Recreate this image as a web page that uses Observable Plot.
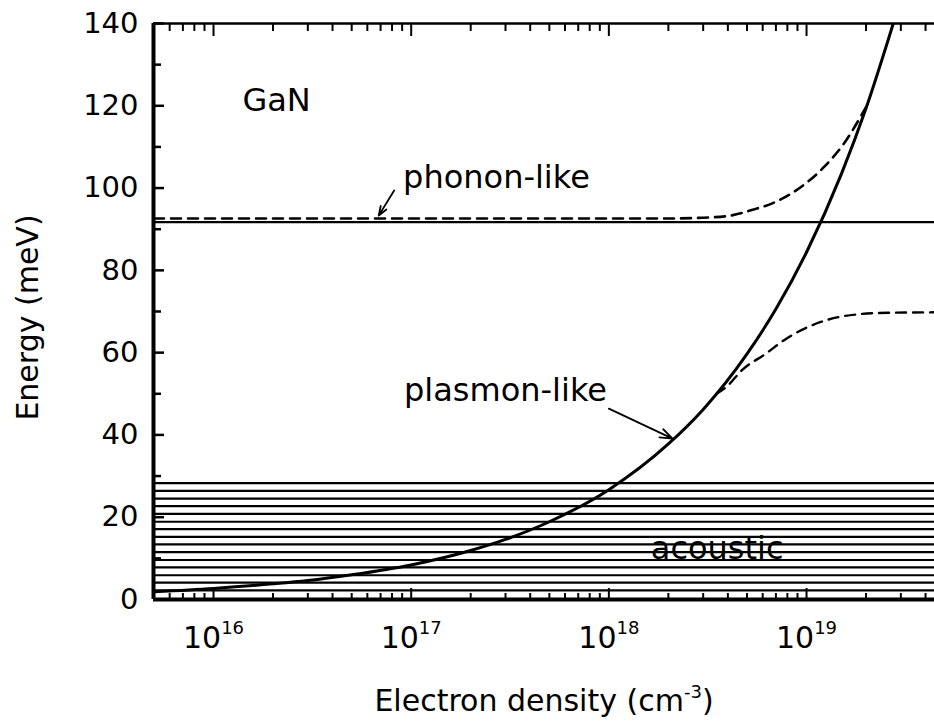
<!DOCTYPE html>
<html><head><meta charset="utf-8">
<script src="https://cdn.jsdelivr.net/npm/d3@7"></script>
<script src="https://cdn.jsdelivr.net/npm/@observablehq/plot@0.6"></script>
<style>body{margin:0;background:#fff} svg{display:block}</style>
</head><body><div id="chart"></div>
<script>
// ---- data ----
const plasmonDensity = [5e15, 1e16, 2e16, 3e16, 5e16, 1e17, 2e17, 3e17, 5e17, 1e18, 2e18, 3e18, 5e18, 7e18, 1e19, 1.5e19, 2e19, 2.8e19];
const plasmonEnergy  = [1.9, 2.7, 3.8, 4.6, 6.0, 8.4, 11.9, 14.6, 18.9, 26.7, 37.8, 46.2, 59.7, 70.6, 84.4, 103.4, 119.4, 141.3];

const upperDensity = [5e15, 1e17, 1e18, 2e18, 3e18, 4e18, 5.4e18, 6.8e18, 8.9e18, 1.23e19, 1.55e19, 2.0e19];
const upperEnergy  = [92.6, 92.6, 92.6, 92.6, 92.8, 93.2, 94.8, 96.4, 99.5, 105.2, 110.9, 119.7];

const lowerDensity = [3.5e18, 4.0e18, 4.7e18, 6.2e18, 7.9e18, 1.17e19, 1.8e19, 2.6e19, 4.4e19];
const lowerEnergy  = [50.0, 52.0, 55.7, 59.7, 63.4, 67.4, 69.3, 69.7, 69.8];

const phononEnergy = [91.7];
const acousticEnergies = [2.2, 4.1, 5.9, 7.8, 9.6, 11.5, 13.4, 15.2, 17.1, 18.9, 20.8, 22.7, 24.5, 26.4, 28.3];

const xTicks = [1e16, 1e17, 1e18, 1e19];
const xTickLabels = ["10^{16}", "10^{17}", "10^{18}", "10^{19}"];
const xMinorTicks = [6e15, 7e15, 8e15, 9e15,
  2e16, 3e16, 4e16, 5e16, 6e16, 7e16, 8e16, 9e16,
  2e17, 3e17, 4e17, 5e17, 6e17, 7e17, 8e17, 9e17,
  2e18, 3e18, 4e18, 5e18, 6e18, 7e18, 8e18, 9e18,
  2e19, 3e19, 4e19];
const yTicks = [0, 20, 40, 60, 80, 100, 120, 140];
const yMinorTicks = [10, 30, 50, 70, 90, 110, 130];

const annotationText    = ["GaN", "phonon-like", "plasmon-like", "acoustic"];
const annotationDensity = [1.4e16, 9.1e16, 9.2e16, 1.63e18];
const annotationEnergy  = [121.3, 102.6, 50.8, 12.4];

const arrowFromDensity = [8.2e16, 1.0e18];
const arrowFromEnergy  = [99.4, 46.4];
const arrowToDensity   = [6.85e16, 2.1e18];
const arrowToEnergy    = [93.3, 39.1];

const xTitle = "Electron density (cm^{-3})";
const yTitle = "Energy (meV)";
const xDomain = [4.97e15, 4.44e19];
const yDomain = [0, 140];

// ---- tables ----
const plasmon = plasmonDensity.map((n, i) => ({n, e: plasmonEnergy[i]}));
const upper = upperDensity.map((n, i) => ({n, e: upperEnergy[i]}));
const lower = lowerDensity.map((n, i) => ({n, e: lowerEnergy[i]}));
const annotations = annotationText.map((t, i) => ({t, n: annotationDensity[i], e: annotationEnergy[i]}));
const arrows = arrowFromDensity.map((n, i) => ({n1: n, e1: arrowFromEnergy[i], n2: arrowToDensity[i], e2: arrowToEnergy[i]}));

const W = 934, H = 727, mL = 153, mR = 0, mT = 23, mB = 128;
const fw = W - mL - mR, fh = H - mT - mB;

const chart = Plot.plot({
  width: W, height: H,
  marginLeft: mL, marginRight: mR, marginTop: mT, marginBottom: mB,
  style: {fontFamily: "DejaVu Sans, sans-serif", fontSize: "28px", background: "#fff", color: "#000"},
  x: {type: "log", domain: xDomain},
  y: {domain: yDomain},
  marks: [
    // acoustic band lines
    Plot.ruleY(acousticEnergies, {stroke: "#000", strokeWidth: 2.2}),
    // LO phonon line
    Plot.ruleY(phononEnergy, {stroke: "#000", strokeWidth: 2.2}),
    // coupled modes (dashed)
    Plot.line(upper, {x: "n", y: "e", stroke: "#000", strokeWidth: 2.6, strokeDasharray: "10,7", curve: "monotone-x", clip: true}),
    Plot.line(lower, {x: "n", y: "e", stroke: "#000", strokeWidth: 2.4, strokeDasharray: "10,7", curve: "monotone-x", clip: true}),
    // bare plasmon
    Plot.line(plasmon, {x: "n", y: "e", stroke: "#000", strokeWidth: 3, curve: "monotone-x", clip: true}),
    // annotations
    Plot.text(annotations, {x: "n", y: "e", text: "t", textAnchor: "start", lineAnchor: "middle", fontSize: 32, fill: "#000"}),
    Plot.arrow(arrows, {x1: "n1", y1: "e1", x2: "n2", y2: "e2", stroke: "#000", strokeWidth: 1.8, headLength: 11, headAngle: 40}),
    // inward ticks
    Plot.tickX(xTicks, {stroke: "#000", strokeWidth: 2, insetTop: fh - 11}),
    Plot.tickX(xMinorTicks, {stroke: "#000", strokeWidth: 2, insetTop: fh - 6}),
    Plot.tickX(xTicks, {stroke: "#000", strokeWidth: 2, insetBottom: fh - 13}),
    Plot.tickX(xMinorTicks, {stroke: "#000", strokeWidth: 2, insetBottom: fh - 8}),
    Plot.tickY(yTicks, {stroke: "#000", strokeWidth: 2.5, insetRight: fw - 11}),
    Plot.tickY(yMinorTicks, {stroke: "#000", strokeWidth: 2.5, insetRight: fw - 8}),
    // frame lines
    Plot.ruleY([yDomain[0]], {stroke: "#000", strokeWidth: 4}),
    Plot.ruleY([yDomain[1]], {stroke: "#000", strokeWidth: 2.5}),
    Plot.ruleX([xDomain[0]], {stroke: "#000", strokeWidth: 4}),
    // axes labels
    Plot.axisX(xTicks, {tickSize: 0, tickPadding: 27, tickFormat: d => xTickLabels[xTicks.indexOf(d)], label: null, fontSize: 30}),
    Plot.axisY(yTicks, {tickSize: 0, tickPadding: 15, label: null, fontSize: 29}),
    Plot.text([xTitle], {frameAnchor: "bottom", dy: 102, textAnchor: "middle", lineAnchor: "middle", fontSize: 30, fill: "#000"}),
    Plot.text([yTitle], {frameAnchor: "left", dx: -125, dy: 6, rotate: -90, textAnchor: "middle", lineAnchor: "middle", fontSize: 30, fill: "#000"})
  ]
});

// superscript post-processing for "^{...}"
const svgns = "http://www.w3.org/2000/svg";
chart.querySelectorAll("text").forEach(t => {
  const s = t.textContent;
  if (!s.includes("^{")) return;
  const fs = parseFloat(t.getAttribute("font-size")) || parseFloat(t.parentNode.getAttribute("font-size")) || 30;
  const supSize = fs * 0.6, rise = fs * 0.45;
  while (t.firstChild) t.removeChild(t.firstChild);
  let raised = false;
  for (const p of s.split(/(\^\{[^}]*\})/)) {
    if (!p) continue;
    const ts = document.createElementNS(svgns, "tspan");
    if (p.startsWith("^{")) {
      ts.textContent = p.slice(2, -1);
      ts.setAttribute("font-size", supSize);
      ts.setAttribute("dy", -rise);
      raised = true;
    } else {
      ts.textContent = p;
      if (raised) { ts.setAttribute("dy", rise); raised = false; }
    }
    t.appendChild(ts);
  }
});

document.getElementById("chart").appendChild(chart);
</script>
</body></html>
